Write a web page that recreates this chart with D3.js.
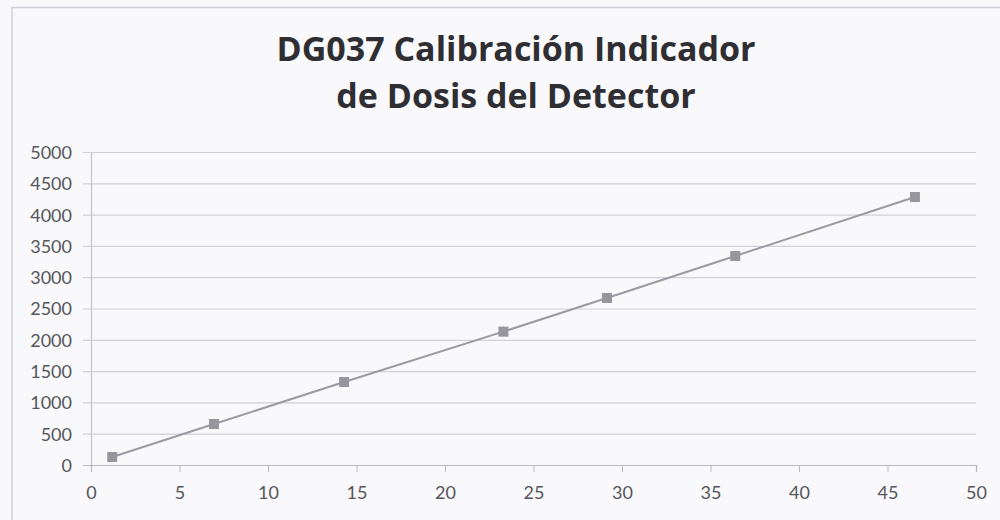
<!DOCTYPE html>
<html lang="es">
<head>
<meta charset="utf-8">
<script src="https://cdn.jsdelivr.net/npm/d3@7"></script>
<style type="text/css">
body {
	margin: 0;
	background: #f9f9fc;
}
text {
	font-family: Lato, "Open Sans", sans-serif;
}
</style>
</head>
<body>
<script type="text/javascript">

// Chart data
var titleLines = ["DG037 Calibración Indicador", "de Dosis del Detector"];
var xValues = [1.2, 6.95, 14.3, 23.3, 29.15, 36.4, 46.55];
var yValues = [128, 655, 1326, 2130, 2668, 3339, 4281];
var xTicks = [0, 5, 10, 15, 20, 25, 30, 35, 40, 45, 50];
var yTicks = [0, 500, 1000, 1500, 2000, 2500, 3000, 3500, 4000, 4500, 5000];

var width = 1000;
var height = 520;
var plot = {left: 91, right: 976, top: 152, bottom: 465};

var svg = d3.select("body")
			.append("svg")
			.attr("width", width)
			.attr("height", height);

// light frame of the chart object
svg.append("path")
	.attr("d", "M12,520 L12,7.5 L1000,7.5")
	.attr("fill", "none")
	.attr("stroke", "#cfcfd6")
	.attr("stroke-width", 1.5);

var x = d3.scaleLinear().domain([0, 50]).range([plot.left, plot.right]);
var y = d3.scaleLinear().domain([0, 5000]).range([plot.bottom, plot.top]);

// title
svg.append("g")
	.selectAll("text")
	.data(titleLines)
	.enter()
	.append("text")
	.attr("x", 516)
	.attr("y", (d, i) => 61 + i * 47)
	.attr("text-anchor", "middle")
	.style("font-family", "'Open Sans', sans-serif")
	.style("font-size", "34px")
	.style("font-weight", "bold")
	.style("fill", "#2e2e33")
	.text(d => d);

// horizontal gridlines, with short ticks left of the axis
svg.append("g")
	.selectAll("line")
	.data(yTicks)
	.enter()
	.append("line")
	.attr("x1", plot.left - 8)
	.attr("x2", plot.right)
	.attr("y1", d => y(d) + 0.5)
	.attr("y2", d => y(d) + 0.5)
	.attr("stroke", d => d === 0 ? "#b8b8be" : "#d0d0d6")
	.attr("stroke-width", 1.2);

// y axis
var yAxis = d3.axisLeft(y).tickValues(yTicks).tickSize(0).tickPadding(19).tickFormat(d3.format("d"));
svg.append("g")
	.attr("transform", "translate(" + plot.left + ",0)")
	.call(yAxis)
	.call(g => g.select(".domain").attr("stroke", "#c4c4ca").attr("stroke-width", 1.2))
	.selectAll("text")
	.style("font-size", "18px")
	.style("fill", "#55555a")
	.attr("dy", "0.36em");

// x axis
var xAxis = d3.axisBottom(x).tickValues(xTicks).tickSize(7).tickPadding(14);
svg.append("g")
	.attr("transform", "translate(0," + plot.bottom + ")")
	.call(xAxis)
	.call(g => g.select(".domain").attr("stroke", "#b8b8be").attr("stroke-width", 1.2))
	.call(g => g.selectAll(".tick line").attr("stroke", "#b8b8be"))
	.selectAll("text")
	.style("font-size", "18px")
	.style("fill", "#55555a");

var points = xValues.map((d, i) => [d, yValues[i]]);

var line = d3.line()
	.x(d => x(d[0]))
	.y(d => y(d[1]));

svg.append("path")
	.datum(points)
	.attr("d", line)
	.attr("fill", "none")
	.attr("stroke", "#9a9aa0")
	.attr("stroke-width", 2);

svg.append("g")
	.selectAll("rect")
	.data(points)
	.enter()
	.append("rect")
	.attr("x", d => x(d[0]) - 5)
	.attr("y", d => y(d[1]) - 5)
	.attr("width", 10)
	.attr("height", 10)
	.attr("fill", "#96969c");

</script>
</body>
</html>
